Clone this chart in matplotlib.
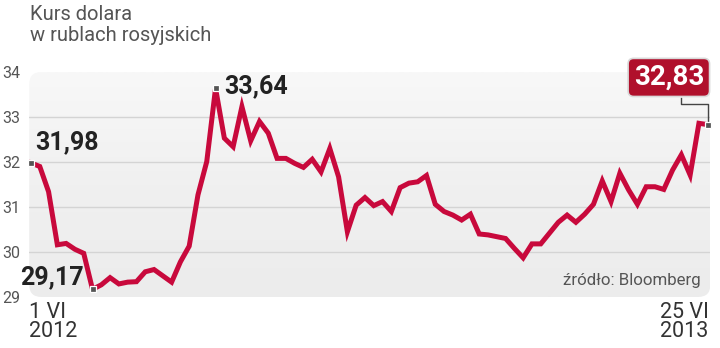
import matplotlib.pyplot as plt
import numpy as np
from matplotlib.patches import FancyBboxPatch
from matplotlib.transforms import IdentityTransform

plt.rcParams['font.family'] = ['Roboto', 'DejaVu Sans']

# weekly USD/RUB rate, 1 VI 2012 - 25 VI 2013
kurs = [31.98, 31.90, 31.34, 30.16, 30.19, 30.06, 29.97, 29.17, 29.27, 29.43,
        29.29, 29.33, 29.34, 29.56, 29.61, 29.47, 29.33, 29.78, 30.13, 31.27,
        32.01, 33.64, 32.53, 32.34, 33.23, 32.47, 32.90, 32.64, 32.08, 32.08,
        31.97, 31.88, 32.06, 31.78, 32.30, 31.67, 30.45, 31.04, 31.21, 31.03,
        31.12, 30.90, 31.43, 31.53, 31.56, 31.70, 31.06, 30.90, 30.82, 30.71,
        30.84, 30.40, 30.38, 30.34, 30.30, 30.08, 29.87, 30.18, 30.18, 30.42,
        30.66, 30.82, 30.66, 30.84, 31.06, 31.58, 31.12, 31.75, 31.38, 31.06,
        31.45, 31.45, 31.39, 31.82, 32.16, 31.71, 32.86, 32.83]
y_ticks = [29, 30, 31, 32, 33, 34]
start_label = '1 VI\n2012'
end_label = '25 VI\n2013'

x = np.arange(len(kurs))
i_min = int(np.argmin(kurs))
i_max = int(np.argmax(kurs))
i_last = len(kurs) - 1

fig = plt.figure(figsize=(7.2, 3.48), dpi=100)
ax = fig.add_axes([0.0406, 0.1466, 0.946, 0.6465])
ax.set_xlim(-0.2, len(kurs) - 0.7)
ax.set_ylim(29, 34)

# rounded grey panel with a soft vertical gradient
panel = FancyBboxPatch((0, 0.0), 1, 1.0, boxstyle='round,pad=0,rounding_size=0.018',
                       mutation_aspect=3.0, transform=ax.transAxes,
                       facecolor='none', edgecolor='none', zorder=0)
ax.add_patch(panel)
grad = np.linspace(0, 1, 100).reshape(-1, 1)
im = ax.imshow(grad, cmap=plt.matplotlib.colors.LinearSegmentedColormap.from_list(
    'bg', ['#ececec', '#f0f0f0', '#f8f8f8']), aspect='auto',
    extent=[0, 1, 0, 1], transform=ax.transAxes, origin='lower', zorder=0)
im.set_clip_path(panel)

for s in ax.spines.values():
    s.set_visible(False)
ax.set_xticks([])
ax.set_yticks(y_ticks)
ax.set_yticklabels([str(t) for t in y_ticks])
ax.tick_params(axis='y', length=0, pad=19.5, labelsize=11.5, labelcolor='#555555')
for lbl in ax.get_yticklabels():
    lbl.set_horizontalalignment('left')
for t in y_ticks[1:-1]:
    ax.axhline(t, color='#d4d4d4', lw=1.0, zorder=1)

ax.plot(x, kurs, color='#c8093c', lw=3.6, solid_joinstyle='miter', zorder=3)
for i in (0, i_min, i_max, i_last):
    ax.plot(x[i], kurs[i], 's', ms=4.5, mfc='#555555', mec='white', mew=0.9,
            zorder=5, clip_on=False)

def fmt(v):
    return f'{v:.2f}'.replace('.', ',')

bold = dict(fontsize=18, fontweight='bold', color='#222222', zorder=6)
ax.annotate(fmt(kurs[0]), (x[0], kurs[0]), xytext=(3, 6), textcoords='offset points',
            ha='left', va='bottom', **bold)
ax.annotate(fmt(kurs[i_min]), (x[i_min], kurs[i_min]), xytext=(-6, 0),
            textcoords='offset points', ha='right', va='bottom', **bold)
ax.annotate(fmt(kurs[i_max]), (x[i_max], kurs[i_max]), xytext=(6, -7),
            textcoords='offset points', ha='left', va='bottom', **bold)
ax.annotate(fmt(kurs[i_last]), (x[i_last], kurs[i_last]), xytext=(-28, 34),
            textcoords='offset points', ha='center', va='center',
            fontsize=20, fontweight='bold', color='white', zorder=7,
            annotation_clip=False,
            bbox=dict(boxstyle='round,pad=0.2,rounding_size=0.2', fc='#b0102c',
                      ec='#d9d9d9', lw=1.2))

# elbow connector from the value box to the last point
px, py = ax.transData.transform((x[i_last], kurs[i_last]))
ax.plot([px - 27, px - 27, px, px], [py + 27, py + 21, py + 21, py],
        transform=IdentityTransform(), color='#444444', lw=1.0, zorder=4,
        clip_on=False)

fig.text(0.041, 0.985, 'Kurs dolara\nw rublach rosyjskich', ha='left', va='top',
         fontsize=14.5, color='#555555', linespacing=1.1)
ax.text(0.985, 0.04, 'źródło: Bloomberg', transform=ax.transAxes, ha='right',
        va='bottom', fontsize=12.2, color='#555555')
fig.text(0.040, 0.132, start_label, ha='left', va='top', fontsize=15.5,
         color='#333333', linespacing=0.9)
fig.text(0.984, 0.132, end_label, ha='right', va='top', fontsize=15.5,
         color='#333333', linespacing=0.9, multialignment='right')

fig.savefig('out.png', dpi=100)
